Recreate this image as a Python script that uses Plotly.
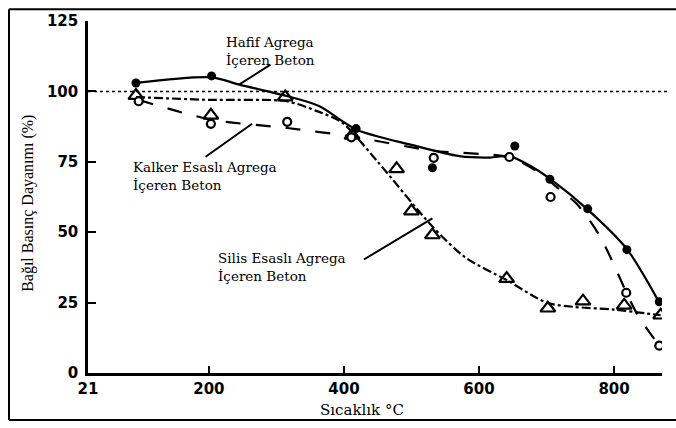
import plotly.graph_objects as go

# ---- data ----
x_ticks = [21, 200, 400, 600, 800]
y_ticks = [0, 25, 50, 75, 100, 125]

# measured points
hafif_x = [92, 204, 418, 531, 653, 705, 761, 819, 867]
hafif_y = [103, 105.5, 86.8, 72.9, 80.6, 68.8, 58.3, 43.8, 25.3]

kalker_x = [96, 203, 316, 411, 533, 645, 706, 818, 867]
kalker_y = [96.5, 88.5, 89.2, 83.7, 76.4, 76.7, 62.5, 28.5, 9.7]

silis_x = [92, 203, 313, 412, 478, 500, 531, 641, 702, 754, 815, 869]
silis_y = [98.5, 91.5, 98.0, 84.4, 72.5, 57.5, 49.0, 33.5, 23.0, 25.5, 24.0, 20.5]

# fitted curves
hafif_curve_x = [92, 204, 245, 313, 363, 418, 500, 571, 616, 645, 680, 705, 761, 819, 867]
hafif_curve_y = [103, 105, 102.4, 98.5, 94.8, 86.5, 81, 77, 76.5, 77, 73, 69, 58, 44, 25]

kalker_curve_x = [96, 203, 316, 411, 530, 645, 690, 720, 745, 779, 834, 867]
kalker_curve_y = [97, 90, 87, 84, 79, 76.5, 71, 65, 60, 48.6, 21, 9.7]

silis_curve_x = [92, 200, 315, 360, 397, 450, 531, 580, 641, 700, 740, 800, 869]
silis_curve_y = [98, 97, 96.5, 93, 89, 75, 52, 41, 33, 25, 23.5, 22.5, 20.5]

ref_level = 100

label_texts = {
    "hafif": "Hafif Agrega<br>İçeren Beton",
    "kalker": "Kalker Esaslı Agrega<br>İçeren Beton",
    "silis": "Silis Esaslı Agrega<br>İçeren Beton",
}
x_title = "Sıcaklık °C"
y_title = "Bağıl Basınç Dayanımı (%)"

SERIF = "DejaVu Serif"

# plot area in pixels (for placing free text)
PL, PR, PT, PB = 88, 662, 13, 373


def px_x(px):
    return (px - PL) / (PR - PL)


def px_y(py):
    return (PB - py) / (PB - PT)


fig = go.Figure()

# curves
fig.add_trace(go.Scatter(x=hafif_curve_x, y=hafif_curve_y, mode="lines",
                         line=dict(color="black", width=2.2, shape="spline", smoothing=0.8),
                         hoverinfo="skip", showlegend=False))
fig.add_trace(go.Scatter(x=kalker_curve_x, y=kalker_curve_y, mode="lines",
                         line=dict(color="black", width=2.2, dash="longdash", shape="spline", smoothing=0.8),
                         hoverinfo="skip", showlegend=False))
fig.add_trace(go.Scatter(x=silis_curve_x, y=silis_curve_y, mode="lines",
                         line=dict(color="black", width=2.2, dash="dashdot", shape="spline", smoothing=0.8),
                         hoverinfo="skip", showlegend=False))

# markers
fig.add_trace(go.Scatter(x=silis_x, y=silis_y, mode="markers",
                         marker=dict(symbol="triangle-up-open", size=13, color="black",
                                     line=dict(width=2.2, color="black")),
                         showlegend=False, name="Silis"))
fig.add_trace(go.Scatter(x=kalker_x, y=kalker_y, mode="markers",
                         marker=dict(symbol="circle", size=8, color="white",
                                     line=dict(width=2.2, color="black")),
                         showlegend=False, name="Kalker"))
fig.add_trace(go.Scatter(x=hafif_x, y=hafif_y, mode="markers",
                         marker=dict(symbol="circle", size=9, color="black"),
                         showlegend=False, name="Hafif"))

# dotted 100% reference line
fig.add_shape(type="line", xref="paper", x0=0, x1=1.01, yref="y", y0=ref_level, y1=ref_level,
              line=dict(color="black", width=1.5, dash="dot"), layer="below")

# outer frame
fl, fr, ft, fb = px_x(9), px_x(690), px_y(1), px_y(421)
fig.add_shape(type="line", xref="paper", yref="paper", x0=fl, x1=fl, y0=fb, y1=ft,
              line=dict(color="black", width=2))
fig.add_shape(type="line", xref="paper", yref="paper", x0=fl, x1=fr, y0=fb, y1=fb,
              line=dict(color="black", width=2))
fig.add_shape(type="line", xref="paper", yref="paper", x0=fl, x1=fr, y0=ft, y1=ft,
              line=dict(color="black", width=2))

tfont = dict(family=SERIF, size=13.5, color="black")

# label texts (positions in pixels: left edge, top)
label_pos = {"hafif": (225, 25), "kalker": (132, 153), "silis": (217, 246)}
for key, (lx, ty) in label_pos.items():
    fig.add_annotation(xref="paper", yref="paper", x=px_x(lx), y=px_y(ty),
                       xanchor="left", yanchor="top", showarrow=False, align="left",
                       text=label_texts[key], font=tfont, borderpad=0)

# leader lines
fig.add_annotation(x=244.6, y=102.4, ax=33, ay=-21, showarrow=True, arrowhead=0,
                   arrowwidth=2, arrowcolor="black", text="")
fig.add_annotation(x=264, y=88.5, ax=-48, ay=34, showarrow=True, arrowhead=0,
                   arrowwidth=2, arrowcolor="black", text="")
fig.add_annotation(x=531, y=54.9, ax=-70, ay=42, showarrow=True, arrowhead=0,
                   arrowwidth=2, arrowcolor="black", text="")

# axis titles
fig.add_annotation(xref="paper", yref="paper", x=px_x(362), y=px_y(411),
                   xanchor="center", yanchor="middle",
                   showarrow=False, text=x_title, font=dict(family=SERIF, size=15, color="black"))
fig.add_annotation(xref="paper", yref="paper", x=px_x(28), y=px_y(200),
                   xanchor="center", yanchor="middle",
                   showarrow=False, text=y_title, textangle=-90,
                   font=dict(family="Liberation Serif", size=16, color="black"))

tickfont = dict(family="DejaVu Sans", size=15, color="black", weight="bold")

fig.update_xaxes(range=[21, 871], tickvals=x_ticks, ticktext=[str(v) for v in x_ticks],
                 showgrid=False, zeroline=False, showline=True, linecolor="black", linewidth=2.5,
                 ticks="inside", ticklen=7, tickwidth=2, tickcolor="black", tickfont=tickfont)
fig.update_yaxes(range=[0, 125], tickvals=y_ticks, showgrid=False, zeroline=False,
                 showline=True, linecolor="black", linewidth=2.5,
                 ticks="inside", ticklen=8, tickwidth=2, tickcolor="black", tickfont=tickfont,
                 ticklabelstandoff=4)

fig.update_layout(width=676, height=428, margin=dict(l=PL, r=676 - PR, t=PT, b=428 - PB),
                  plot_bgcolor="white", paper_bgcolor="white", showlegend=False)

fig.write_html("out.html", config={"displayModeBar": False},
               post_script="document.body.style.margin='0';document.body.style.overflow='hidden';")
